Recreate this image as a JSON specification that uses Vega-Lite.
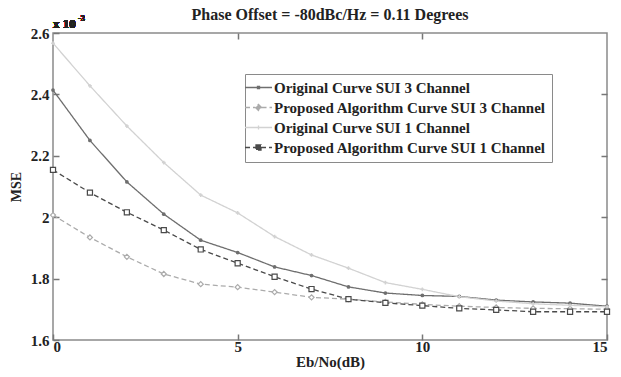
{
  "$schema": "https://vega.github.io/schema/vega-lite/v6.json",
  "width": 554,
  "height": 307,
  "autosize": "none",
  "padding": {"left": 53, "top": 33, "right": 14, "bottom": 37},
  "background": "white",
  "config": {
    "font": "Liberation Serif",
    "view": {"stroke": "#8a8a8a", "strokeWidth": 1.5},
    "axis": {"grid": false, "domain": false, "labelFont": "Liberation Serif", "labelFontWeight": "bold", "labelFontSize": 15, "labelColor": "#222", "titleFont": "Liberation Serif", "titleFontWeight": "bold", "titleFontSize": 15, "titleColor": "#222", "tickColor": "#777", "tickSize": -6, "tickWidth": 1.5}
  },
  "title": {"text": "Phase Offset = -80dBc/Hz = 0.11 Degrees", "font": "Liberation Serif", "fontSize": 16, "fontWeight": "bold", "color": "#222", "anchor": "middle", "offset": -8},
  "datasets": {
    "mse": [
    {"snr":0,"mse":0.002414,"series":"Original Curve SUI 3 Channel"},
    {"snr":1,"mse":0.002250,"series":"Original Curve SUI 3 Channel"},
    {"snr":2,"mse":0.002115,"series":"Original Curve SUI 3 Channel"},
    {"snr":3,"mse":0.002010,"series":"Original Curve SUI 3 Channel"},
    {"snr":4,"mse":0.001925,"series":"Original Curve SUI 3 Channel"},
    {"snr":5,"mse":0.001885,"series":"Original Curve SUI 3 Channel"},
    {"snr":6,"mse":0.001838,"series":"Original Curve SUI 3 Channel"},
    {"snr":7,"mse":0.001810,"series":"Original Curve SUI 3 Channel"},
    {"snr":8,"mse":0.001773,"series":"Original Curve SUI 3 Channel"},
    {"snr":9,"mse":0.001753,"series":"Original Curve SUI 3 Channel"},
    {"snr":10,"mse":0.001745,"series":"Original Curve SUI 3 Channel"},
    {"snr":11,"mse":0.001742,"series":"Original Curve SUI 3 Channel"},
    {"snr":12,"mse":0.001730,"series":"Original Curve SUI 3 Channel"},
    {"snr":13,"mse":0.001724,"series":"Original Curve SUI 3 Channel"},
    {"snr":14,"mse":0.001720,"series":"Original Curve SUI 3 Channel"},
    {"snr":15,"mse":0.001710,"series":"Original Curve SUI 3 Channel"},
    {"snr":0,"mse":0.002007,"series":"Proposed Algorithm Curve SUI 3 Channel"},
    {"snr":1,"mse":0.001934,"series":"Proposed Algorithm Curve SUI 3 Channel"},
    {"snr":2,"mse":0.001871,"series":"Proposed Algorithm Curve SUI 3 Channel"},
    {"snr":3,"mse":0.001815,"series":"Proposed Algorithm Curve SUI 3 Channel"},
    {"snr":4,"mse":0.001782,"series":"Proposed Algorithm Curve SUI 3 Channel"},
    {"snr":5,"mse":0.001772,"series":"Proposed Algorithm Curve SUI 3 Channel"},
    {"snr":6,"mse":0.001756,"series":"Proposed Algorithm Curve SUI 3 Channel"},
    {"snr":7,"mse":0.001739,"series":"Proposed Algorithm Curve SUI 3 Channel"},
    {"snr":8,"mse":0.001733,"series":"Proposed Algorithm Curve SUI 3 Channel"},
    {"snr":9,"mse":0.001724,"series":"Proposed Algorithm Curve SUI 3 Channel"},
    {"snr":10,"mse":0.001716,"series":"Proposed Algorithm Curve SUI 3 Channel"},
    {"snr":11,"mse":0.001710,"series":"Proposed Algorithm Curve SUI 3 Channel"},
    {"snr":12,"mse":0.001706,"series":"Proposed Algorithm Curve SUI 3 Channel"},
    {"snr":13,"mse":0.001703,"series":"Proposed Algorithm Curve SUI 3 Channel"},
    {"snr":14,"mse":0.001702,"series":"Proposed Algorithm Curve SUI 3 Channel"},
    {"snr":15,"mse":0.001700,"series":"Proposed Algorithm Curve SUI 3 Channel"},
    {"snr":0,"mse":0.002567,"series":"Original Curve SUI 1 Channel"},
    {"snr":1,"mse":0.002428,"series":"Original Curve SUI 1 Channel"},
    {"snr":2,"mse":0.002297,"series":"Original Curve SUI 1 Channel"},
    {"snr":3,"mse":0.002178,"series":"Original Curve SUI 1 Channel"},
    {"snr":4,"mse":0.002072,"series":"Original Curve SUI 1 Channel"},
    {"snr":5,"mse":0.002014,"series":"Original Curve SUI 1 Channel"},
    {"snr":6,"mse":0.001937,"series":"Original Curve SUI 1 Channel"},
    {"snr":7,"mse":0.001877,"series":"Original Curve SUI 1 Channel"},
    {"snr":8,"mse":0.001834,"series":"Original Curve SUI 1 Channel"},
    {"snr":9,"mse":0.001787,"series":"Original Curve SUI 1 Channel"},
    {"snr":10,"mse":0.001765,"series":"Original Curve SUI 1 Channel"},
    {"snr":11,"mse":0.001741,"series":"Original Curve SUI 1 Channel"},
    {"snr":12,"mse":0.001727,"series":"Original Curve SUI 1 Channel"},
    {"snr":13,"mse":0.001718,"series":"Original Curve SUI 1 Channel"},
    {"snr":14,"mse":0.001713,"series":"Original Curve SUI 1 Channel"},
    {"snr":15,"mse":0.001708,"series":"Original Curve SUI 1 Channel"},
    {"snr":0,"mse":0.002154,"series":"Proposed Algorithm Curve SUI 1 Channel"},
    {"snr":1,"mse":0.002080,"series":"Proposed Algorithm Curve SUI 1 Channel"},
    {"snr":2,"mse":0.002016,"series":"Proposed Algorithm Curve SUI 1 Channel"},
    {"snr":3,"mse":0.001958,"series":"Proposed Algorithm Curve SUI 1 Channel"},
    {"snr":4,"mse":0.001895,"series":"Proposed Algorithm Curve SUI 1 Channel"},
    {"snr":5,"mse":0.001850,"series":"Proposed Algorithm Curve SUI 1 Channel"},
    {"snr":6,"mse":0.001806,"series":"Proposed Algorithm Curve SUI 1 Channel"},
    {"snr":7,"mse":0.001766,"series":"Proposed Algorithm Curve SUI 1 Channel"},
    {"snr":8,"mse":0.001733,"series":"Proposed Algorithm Curve SUI 1 Channel"},
    {"snr":9,"mse":0.001721,"series":"Proposed Algorithm Curve SUI 1 Channel"},
    {"snr":10,"mse":0.001712,"series":"Proposed Algorithm Curve SUI 1 Channel"},
    {"snr":11,"mse":0.001703,"series":"Proposed Algorithm Curve SUI 1 Channel"},
    {"snr":12,"mse":0.001698,"series":"Proposed Algorithm Curve SUI 1 Channel"},
    {"snr":13,"mse":0.001692,"series":"Proposed Algorithm Curve SUI 1 Channel"},
    {"snr":14,"mse":0.001692,"series":"Proposed Algorithm Curve SUI 1 Channel"},
    {"snr":15,"mse":0.001692,"series":"Proposed Algorithm Curve SUI 1 Channel"}
    ]
  },
  "data": {"name": "mse"},
  "layer": [
    {
      "mark": {"type": "line", "strokeWidth": 1.3},
      "encoding": {
        "x": {"field": "snr", "type": "quantitative", "scale": {"domain": [0, 15], "nice": false}, "axis": {"values": [0, 5, 10, 15], "title": "Eb/No(dB)", "labelPadding": 5, "titlePadding": 0}},
        "y": {"field": "mse", "type": "quantitative", "scale": {"domain": [0.0016, 0.0026], "nice": false, "zero": false}, "axis": {"values": [0.0016, 0.0018, 0.002, 0.0022, 0.0024, 0.0026], "labelExpr": "format(datum.value*1000, '.2~f')", "title": "MSE", "titleFontSize": 14, "titlePadding": 7, "labelPadding": 10}},
        "color": {"field": "series", "type": "nominal", "scale": {"domain": ["Original Curve SUI 3 Channel", "Proposed Algorithm Curve SUI 3 Channel", "Original Curve SUI 1 Channel", "Proposed Algorithm Curve SUI 1 Channel"], "range": ["#6e6e6e", "#ababab", "#d2d2d2", "#4a4a4a"]}, "legend": {"orient": "none", "legendX": 192, "legendY": 41, "title": null, "fillColor": "white", "strokeColor": "#8a8a8a", "padding": 6, "labelFont": "Liberation Serif", "labelFontWeight": "bold", "labelFontSize": 15, "labelColor": "#222", "labelLimit": 0, "labelOffset": 8, "rowPadding": 4, "symbolSize": 182, "symbolStrokeWidth": 1.3, "symbolFillColor": "transparent", "offset": 0}},
        "strokeDash": {"field": "series", "type": "nominal", "scale": {"domain": ["Original Curve SUI 3 Channel", "Proposed Algorithm Curve SUI 3 Channel", "Original Curve SUI 1 Channel", "Proposed Algorithm Curve SUI 1 Channel"], "range": [[1, 0], [5, 3], [1, 0], [5, 3]]}}
      }
    },
    {
      "transform": [{"filter": "datum.series === 'Original Curve SUI 3 Channel'"}],
      "mark": {"type": "point", "shape": "circle", "size": 14, "filled": true, "opacity": 1},
      "encoding": {
        "x": {"field": "snr", "type": "quantitative", "axis": null},
        "y": {"field": "mse", "type": "quantitative", "axis": null},
        "color": {"field": "series", "type": "nominal"}
      }
    },
    {
      "transform": [{"filter": "datum.series === 'Proposed Algorithm Curve SUI 3 Channel'"}],
      "mark": {"type": "point", "shape": "diamond", "size": 26, "strokeWidth": 1.2, "fill": "white", "opacity": 1},
      "encoding": {
        "x": {"field": "snr", "type": "quantitative", "axis": null},
        "y": {"field": "mse", "type": "quantitative", "axis": null},
        "color": {"field": "series", "type": "nominal"}
      }
    },
    {
      "transform": [{"filter": "datum.series === 'Original Curve SUI 1 Channel'"}],
      "mark": {"type": "point", "shape": "cross", "size": 14, "filled": true, "opacity": 1},
      "encoding": {
        "x": {"field": "snr", "type": "quantitative", "axis": null},
        "y": {"field": "mse", "type": "quantitative", "axis": null},
        "color": {"field": "series", "type": "nominal"}
      }
    },
    {
      "transform": [{"filter": "datum.series === 'Proposed Algorithm Curve SUI 1 Channel'"}],
      "mark": {"type": "point", "shape": "square", "size": 26, "strokeWidth": 1.2, "fill": "white", "opacity": 1},
      "encoding": {
        "x": {"field": "snr", "type": "quantitative", "axis": null},
        "y": {"field": "mse", "type": "quantitative", "axis": null},
        "color": {"field": "series", "type": "nominal"}
      }
    },
    {
      "transform": [{"filter": "datum.snr < 0"}],
      "mark": {"type": "point", "strokeWidth": 1.3},
      "encoding": {
        "x": {"field": "snr", "type": "quantitative", "axis": {"orient": "top", "values": [5, 10], "labels": false, "title": null}},
        "y": {"field": "mse", "type": "quantitative", "axis": {"orient": "right", "values": [0.0018, 0.002, 0.0022, 0.0024], "labels": false, "title": null}},
        "color": {"field": "series", "type": "nominal"},
        "shape": {"field": "series", "type": "nominal", "scale": {"domain": ["Original Curve SUI 3 Channel", "Proposed Algorithm Curve SUI 3 Channel", "Original Curve SUI 1 Channel", "Proposed Algorithm Curve SUI 1 Channel"], "range": ["M-2,0H2M-0.15,-0.15H0.15V0.15H-0.15Z", "M-2,0H-0.45M0.45,0H2M0,-0.45L0.45,0L0,0.45L-0.45,0Z", "M-2,0H2M0,-0.3V0.3", "M-2,0H-0.37M0.37,0H2M-0.37,-0.37H0.37V0.37H-0.37Z"]}}
      }
    },
    {
      "mark": {"type": "text", "text": "x 10", "align": "left", "baseline": "alphabetic", "dx": 0, "dy": -5, "font": "Liberation Serif", "fontWeight": "bold", "fontSize": 13, "color": "#222"},
      "encoding": {
        "x": {"datum": 0, "type": "quantitative", "axis": null},
        "y": {"datum": 0.0026, "type": "quantitative", "axis": null}
      }
    },
    {
      "mark": {"type": "text", "text": "-3", "align": "left", "baseline": "alphabetic", "dx": 25, "dy": -12, "font": "Liberation Serif", "fontWeight": "bold", "fontSize": 8, "color": "#222"},
      "encoding": {
        "x": {"datum": 0, "type": "quantitative", "axis": null},
        "y": {"datum": 0.0026, "type": "quantitative", "axis": null}
      }
    }
  ],
  "resolve": {"axis": {"x": "independent", "y": "independent"}}
}
